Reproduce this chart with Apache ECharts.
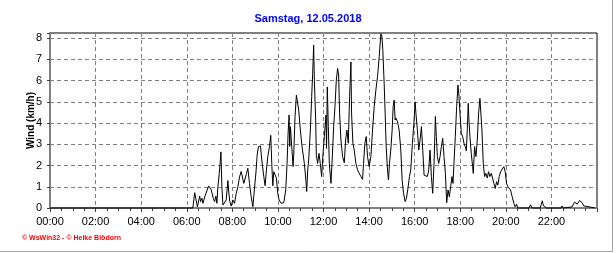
<!DOCTYPE html>
<html>
<head>
<meta charset="utf-8">
<script src="https://cdn.jsdelivr.net/npm/echarts@6/dist/echarts.min.js"></script>
<style>
html,body{margin:0;padding:0;background:#fff;}
#chart{width:616px;height:253px;}
</style>
</head>
<body>
<div id="chart"></div>
<script>
var titleText = 'Samstag, 12.05.2018';
var yAxisName = 'Wind (km/h)';
var creditText = '\u00a9 WsWin32 - \u00a9 Heike Bl\u00f6dorn';
var xTickLabels = ['00:00','02:00','04:00','06:00','08:00','10:00','12:00','14:00','16:00','18:00','20:00','22:00'];
var yTickLabels = ['0','1','2','3','4','5','6','7','8'];

// time of day in minutes
var timeMinutes = [0,376,381,388,394,396.5,400,402.6,408.8,414,417.5,421,424.6,429.8,433.3,436.8,439.4,442,445.6,448.2,449.9,452.5,455.2,459.6,463.9,468.3,470.9,473.5,477,481.4,485.8,490.2,494.6,499,503.3,507.7,510.3,513.8,517.3,520.8,525.2,529.6,534,538,542.7,545.3,548.8,554.1,557.6,562.8,566.3,569.8,573.3,577.7,581.2,583.8,586.5,589.1,592.6,596.1,599.6,603.1,608.4,615.4,620.6,624.1,626.7,629.4,631.1,632.9,636.4,639.9,641.6,645.1,648.6,652.1,654.7,659.1,663.5,669.6,674,675.8,678.4,681,685.4,688.9,691.5,694.1,695.9,699.4,701.1,704.6,708.1,711.6,715.1,718.7,722.2,726.5,728,730,732.7,735.3,739.7,743.2,746.7,750.2,753.7,757.2,759.8,762.4,765.9,770.3,774.7,778.2,781.7,785.2,788.7,792.2,793.9,797.4,800.9,805.3,809.7,814,818.4,822.8,825.4,828.9,832.4,835.9,840.3,844.7,849.1,853.5,857.8,862.2,866.6,871,873.6,876.2,879.7,882.3,885,888.5,891.1,893.7,897.2,900.7,903.3,906,908.6,910.3,914.7,919.1,923.5,927,930.5,934.9,938.4,942.7,946.2,949.7,954.1,958.5,961.1,963.7,967.2,970.7,974.2,977.8,981.3,984.8,989.1,993.5,997,1000.5,1004,1007.5,1011,1014.5,1017.1,1019.8,1023.3,1026.8,1030.3,1033.8,1037.3,1040.8,1044.3,1047.8,1051.3,1054.8,1058.3,1060.9,1063.5,1067,1070.5,1074,1076.7,1079.3,1082.8,1086.3,1089.8,1093.3,1096,1098.5,1101.1,1102.9,1105.5,1109,1112.5,1114.3,1117.8,1121.3,1124.8,1128.3,1131.8,1134.4,1137.1,1140.6,1144.1,1147.6,1151.1,1154.6,1158.1,1161.6,1165.1,1168.6,1172.1,1175.6,1179.1,1182.6,1186.1,1190.5,1194.8,1198.3,1201.8,1205.3,1208.8,1212.3,1216.7,1221.1,1224.6,1228.1,1231.6,1261,1265,1269,1290,1293,1296,1299,1303,1307,1345,1348,1351,1374,1381,1388,1394,1401,1405,1409,1435];

// wind speed km/h
var windValues = [0,0,0.72,0.05,0.56,0.30,0.46,0.22,0.61,0.85,1.04,1.13,0.85,0.45,0.30,0.56,0.22,1.00,1.63,2.18,2.64,1.00,0.14,0.09,0.38,1.29,0.69,0.30,0.09,0.38,0.22,0.69,1.00,1.47,1.72,1.63,1.16,1.24,1.63,1.87,1.16,0.53,0.06,0.10,1.79,2.49,2.89,2.92,2.26,1.48,1.05,1.79,2.42,2.89,3.42,2.10,1.05,1.71,1.63,1.41,0.69,0.38,0.22,0.25,0.85,2.10,3.48,4.38,2.89,3.83,2.89,1.95,2.49,4.31,5.32,5.40,4.61,3.67,2.89,2.10,1.24,0.78,1.79,2.26,3.67,5.24,6.34,7.67,6.02,4.14,2.49,2.10,2.57,2.10,1.48,2.57,3.36,4.38,2.80,5.70,3.83,2.10,1.16,2.42,3.83,4.77,6.02,6.57,6.26,4.46,3.20,2.42,2.13,3.20,3.67,3.05,5.24,6.88,4.46,3.05,2.73,2.10,1.79,1.71,1.48,1.35,2.10,3.05,3.36,2.42,1.95,2.42,3.67,4.77,5.55,6.18,7.12,8.20,8.10,7.43,5.87,4.46,2.89,1.79,1.32,2.10,2.73,3.67,4.77,5.08,4.14,4.24,4.08,3.67,2.73,1.32,0.72,0.30,0.46,0.97,1.48,1.79,3.05,4.14,5.00,4.38,3.67,2.73,3.20,3.83,2.73,1.55,1.48,1.48,1.79,2.73,1.48,0.69,2.10,4.31,3.36,2.42,2.10,2.42,2.89,3.28,2.42,1.63,0.25,0.85,0.53,1.00,1.48,1.16,2.10,3.36,4.77,5.79,5.24,4.46,3.52,3.36,3.05,2.89,2.69,3.67,4.93,4.14,3.36,2.57,1.95,1.63,2.89,2.42,3.20,4.46,5.16,5.24,3.67,2.10,1.48,1.63,1.41,1.71,1.48,1.63,1.41,1.16,0.92,1.24,1.08,1.48,1.71,1.79,1.95,1.71,1.16,1.00,1.08,0.85,0.53,0.22,0.06,0.18,0,0,0.15,0,0,0.15,0.34,0.10,0.15,0,0,0.10,0,0.05,0.28,0.18,0.35,0.25,0.10,0.03,0];

var seriesData = timeMinutes.map(function (t, i) { return [t, windValues[i]]; });

var chart = echarts.init(document.getElementById('chart'), null, {renderer: 'canvas'});
var FONT = '"Liberation Sans", Arial, sans-serif';
chart.setOption({
  animation: false,
  backgroundColor: '#ffffff',
  title: {
    text: titleText,
    left: 'center',
    top: 13,
    padding: 0,
    textStyle: {color: '#0000ff', fontSize: 11, fontWeight: 'bold', fontFamily: FONT}
  },
  grid: {
    left: 50, right: 19, top: 33, bottom: 45,
    show: true, borderColor: '#000000', borderWidth: 1, backgroundColor: 'transparent'
  },
  xAxis: {
    type: 'value',
    min: 0, max: 1440, interval: 120,
    z: 3,
    axisLine: {show: true, onZero: false, lineStyle: {color: '#808080', width: 2}},
    axisTick: {show: true, length: 4, lineStyle: {color: '#404040', width: 1}},
    minorTick: {show: true, splitNumber: 4, length: 3, lineStyle: {color: '#404040', width: 1}},
    axisLabel: {
      margin: 8, color: '#000000', fontSize: 11, fontFamily: FONT,
      showMaxLabel: false,
      formatter: function (v) { var i = Math.round(v / 120); return (v % 120 === 0 && i < xTickLabels.length) ? xTickLabels[i] : ''; }
    },
    splitLine: {show: true, showMinLine: false, showMaxLine: false, lineStyle: {color: '#808080', type: [4, 3], width: 1}}
  },
  yAxis: {
    type: 'value',
    min: 0, max: 8.24, interval: 1,
    z: 3,
    name: yAxisName,
    nameLocation: 'middle',
    nameGap: 14,
    nameMoveOverlap: false,
    nameRotate: 90,
    nameTextStyle: {color: '#000000', fontSize: 10, fontWeight: 'bold', fontFamily: FONT},
    axisLine: {show: true, lineStyle: {color: '#808080', width: 2}},
    axisTick: {show: true, length: 3, lineStyle: {color: '#404040', width: 1}},
    axisLabel: {
      margin: 8, color: '#000000', fontSize: 11, fontFamily: FONT,
      formatter: function (v) { return (Math.abs(v - Math.round(v)) < 1e-6 && Math.round(v) < yTickLabels.length) ? yTickLabels[Math.round(v)] : ''; }
    },
    splitLine: {show: true, showMinLine: false, showMaxLine: false, lineStyle: {color: '#808080', type: [4, 3], width: 1}}
  },
  graphic: [
    {type: 'text', left: 22, top: 235, style: {text: creditText, fill: '#ff0000', fontSize: 7, fontWeight: 'bold', fontFamily: FONT}},
    {type: 'line', shape: {x1: 0, y1: 251.5, x2: 613, y2: 251.5}, style: {stroke: '#a0a0a0', lineWidth: 1}},
    {type: 'line', shape: {x1: 612.5, y1: 0, x2: 612.5, y2: 252}, style: {stroke: '#a0a0a0', lineWidth: 1}}
  ],
  series: [{
    type: 'line',
    data: seriesData,
    showSymbol: false,
    symbol: 'none',
    z: 5,
    clip: false,
    lineStyle: {color: '#000000', width: 1},
    emphasis: {disabled: true}
  }]
});
</script>
</body>
</html>
